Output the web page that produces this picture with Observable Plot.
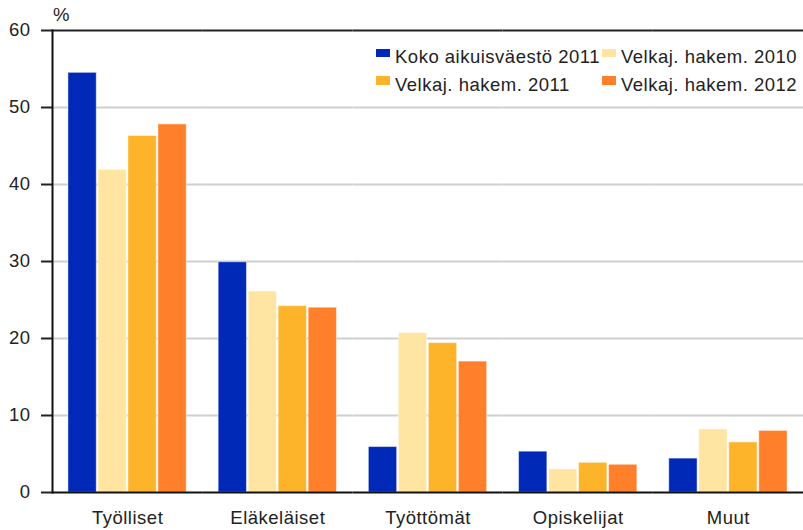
<!DOCTYPE html>
<html>
<head>
<meta charset="utf-8">
<script src="https://cdn.jsdelivr.net/npm/d3@7"></script>
<script src="https://cdn.jsdelivr.net/npm/@observablehq/plot@0.6"></script>
<style>
  html, body { margin: 0; padding: 0; background: #fff; }
  #wrap { position: relative; width: 803px; height: 530px; font-family: "Liberation Sans", Arial, sans-serif; color: #222; letter-spacing: 0.5px; }
  #unit { position: absolute; left: 53px; top: 5px; font-size: 18.5px; line-height: 20px; }
  #legend { position: absolute; left: 376px; top: 47px; display: grid; grid-template-columns: 226px auto; row-gap: 7.5px; font-size: 18.5px; line-height: 20px; }
  .item { display: flex; align-items: flex-start; white-space: nowrap; }
  .sw { width: 14px; height: 8.5px; margin-right: 5px; margin-top: 1.5px; flex: none; }
</style>
</head>
<body>
<div id="wrap"><div id="unit">%</div><div id="legend"></div></div>
<script>
const categories = ["Työlliset", "Eläkeläiset", "Työttömät", "Opiskelijat", "Muut"];
const series = ["Koko aikuisväestö 2011", "Velkaj. hakem. 2010", "Velkaj. hakem. 2011", "Velkaj. hakem. 2012"];
const koko2011 = [54.5, 29.9, 5.9, 5.3, 4.4];
const velkaj2010 = [41.9, 26.1, 20.7, 3.0, 8.2];
const velkaj2011 = [46.3, 24.2, 19.4, 3.85, 6.5];
const velkaj2012 = [47.8, 24.0, 17.0, 3.6, 8.0];
const colors = ["#0029b8", "#ffe5a1", "#fdb42a", "#ff7f2a"];
const yTicks = [0, 10, 20, 30, 40, 50, 60];

const valuesBySeries = [koko2011, velkaj2010, velkaj2011, velkaj2012];
const data = [];
categories.forEach((c, i) => series.forEach((s, j) => data.push({category: c, series: s, value: valuesBySeries[j][i]})));

const plot = Plot.plot({
  width: 803,
  height: 530,
  marginLeft: 52,
  marginRight: 0,
  marginTop: 30,
  marginBottom: 38,
  style: {fontFamily: "'Liberation Sans', Arial, sans-serif", fontSize: "18.5px", color: "#222", background: "#fff", letterSpacing: "0.5px"},
  fx: {domain: categories, padding: 0, round: false, label: null},
  x: {domain: series, paddingInner: 0.057, paddingOuter: 0.532, round: false, axis: null},
  y: {domain: [0, 60], label: null},
  color: {domain: series, range: colors},
  marks: [
    Plot.gridY(yTicks.slice(1, -1), {stroke: "#cfcfcf", strokeOpacity: 1, strokeWidth: 2}),
    Plot.barY(data, {fx: "category", x: "series", y: "value", fill: "series", stroke: "#ffffff", strokeOpacity: 0.45, strokeWidth: 1}),
    Plot.ruleY([0], {stroke: "#111", strokeWidth: 2}),
    Plot.ruleY([60], {stroke: "#222", strokeWidth: 2}),
    Plot.axisY({ticks: yTicks, tickSize: 11, tickPadding: 11, strokeWidth: 2, label: null, fontSize: 18.5}),
    Plot.frame({anchor: "left", facetAnchor: "left", stroke: "#111", strokeWidth: 2}),
    Plot.axisFx({anchor: "bottom", tickSize: 0, tickPadding: 18, label: null, fontSize: 18.5})
  ]
});
document.getElementById("wrap").prepend(plot);
plot.style.display = "block";

const legend = document.getElementById("legend");
series.forEach((s, j) => {
  const it = document.createElement("div");
  it.className = "item";
  const sw = document.createElement("span");
  sw.className = "sw";
  sw.style.background = colors[j];
  const t = document.createElement("span");
  t.textContent = s;
  it.append(sw, t);
  legend.append(it);
});
</script>
</body>
</html>
